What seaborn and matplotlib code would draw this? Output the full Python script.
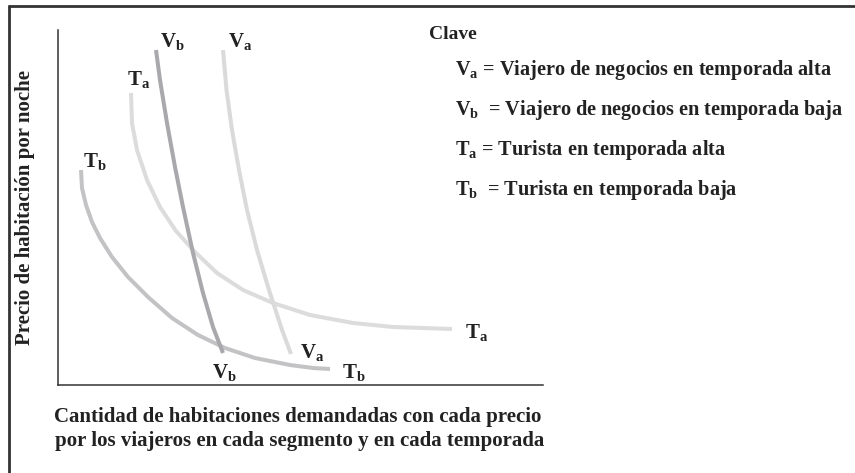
import matplotlib
matplotlib.use("Agg")
import matplotlib.pyplot as plt
from matplotlib.lines import Line2D
import seaborn as sns
import pandas as pd

# ── Data (quantity / price) ───────────────────────────────────────────────────
VB_Q = [98, 102, 109, 117, 125, 135, 145, 155, 165]
VB_P = [335, 305, 262, 218, 178, 132, 92, 58, 32]

VA_Q = [165, 168.5, 174, 181, 189, 199, 211, 224, 233]
VA_P = [335, 295, 255, 215, 175, 135, 95, 55, 31]

TA_Q = [73, 74, 79, 89, 102, 118, 137, 159, 185, 215, 252, 295, 335, 394]
TA_P = [292, 262, 235, 205, 178, 154, 133, 112, 95, 82, 70, 62, 58, 56]

TB_Q = [23, 24, 28, 34, 42, 54, 70, 90, 114, 140, 167, 197, 232, 255, 272]
TB_P = [215, 197, 180, 163, 147, 128, 108, 88, 67, 50, 37, 27, 20, 17, 16]

CURVES = ["Va", "Vb", "Ta", "Tb"]
KEY_TEXT = ["Viajero de negocios en temporada alta",
            "Viajero de negocios en temporada baja",
            "Turista en temporada alta",
            "Turista en temporada baja"]

COLORS = {"Vb": "#a9a9ad", "Va": "#dadadb", "Ta": "#dcdcdd", "Tb": "#c3c3c5"}
INK = "#222222"

sns.set_style("white")
plt.rcParams["font.family"] = ["Liberation Serif", "DejaVu Serif"]
plt.rcParams["font.weight"] = "bold"
plt.rcParams["mathtext.fontset"] = "custom"
plt.rcParams["mathtext.rm"] = "Liberation Serif:bold"
plt.rcParams["mathtext.bf"] = "Liberation Serif:bold"
plt.rcParams["mathtext.it"] = "Liberation Serif:bold"

W, H = 855, 473
fig = plt.figure(figsize=(W / 100, H / 100), dpi=100)
ax = fig.add_axes([58 / W, (H - 385) / H, 485 / W, 355 / H])

data = {"Vb": (VB_Q, VB_P), "Va": (VA_Q, VA_P), "Ta": (TA_Q, TA_P), "Tb": (TB_Q, TB_P)}
for name in ["Ta", "Va", "Tb", "Vb"]:
    q, p = data[name]
    df = pd.DataFrame({"q": q, "p": p})
    sns.lineplot(data=df, x="q", y="p", ax=ax, sort=False, estimator=None,
                 color=COLORS[name], linewidth=2.9, solid_capstyle="butt",
                 solid_joinstyle="round")

ax.set_xlim(0, 485)
ax.set_ylim(0, 355)
ax.set_xticks([])
ax.set_yticks([])
ax.set_xlabel("")
ax.set_ylabel("")
for s in ["top", "right"]:
    ax.spines[s].set_visible(False)
for s in ["left", "bottom"]:
    ax.spines[s].set_color("#333333")
    ax.spines[s].set_linewidth(1.1)


def sub(name):
    return rf"$\mathbf{{{name[0]}}}_{{\mathbf{{{name[1]}}}}}$"


# curve labels: (curve, end index, pixel offset)
LABELS = [("Vb", 0, (4, 3)), ("Va", 0, (5, 3)), ("Ta", 0, (-4, 8)), ("Tb", 0, (2, 3)),
          ("Vb", -1, (-11, -25)), ("Va", -1, (9, -4)), ("Tb", -1, (12, -9)),
          ("Ta", -1, (13, -9))]
for name, idx, off in LABELS:
    q, p = data[name]
    ax.annotate(sub(name), xy=(q[idx], p[idx]), xytext=off,
                textcoords="offset pixels", ha="left", va="baseline",
                fontsize=15, color=INK, annotation_clip=False)

# axis titles
fig.text(25 / W, 1 - 207 / H, "Precio de habitación por noche", rotation=90,
         ha="center", va="center", fontsize=15, fontweight="bold", color=INK)
fig.text(298 / W, 1 - 417 / H, "Cantidad de habitaciones demandadas con cada precio",
         ha="center", va="center", fontsize=15, fontweight="bold", color=INK)
fig.text(300 / W, 1 - 441 / H, "por los viajeros en cada segmento y en cada temporada",
         ha="center", va="center", fontsize=15, fontweight="bold", color=INK)

# key
fig.text(429 / W, 1 - 39 / H, "Clave", ha="left", va="baseline",
         fontsize=14, fontweight="bold", color=INK)
key_y = [75, 115, 155, 195]
for name, txt, y in zip(CURVES, KEY_TEXT, key_y):
    sep = "  = " if name[1] == "b" else " = "
    fig.text(455 / W, 1 - y / H, sub(name) + sep + txt,
             ha="left", va="baseline", fontsize=14.6, fontweight="bold", color=INK)

# frame (top and left edges visible)
fig.add_artist(Line2D([9 / W, 9 / W], [0, 1 - 6 / H], color="#333333", linewidth=2.0))
fig.add_artist(Line2D([9 / W, 1], [1 - 6 / H, 1 - 6 / H], color="#333333", linewidth=2.0))

fig.savefig("out.png", dpi=100)
plt.close()
